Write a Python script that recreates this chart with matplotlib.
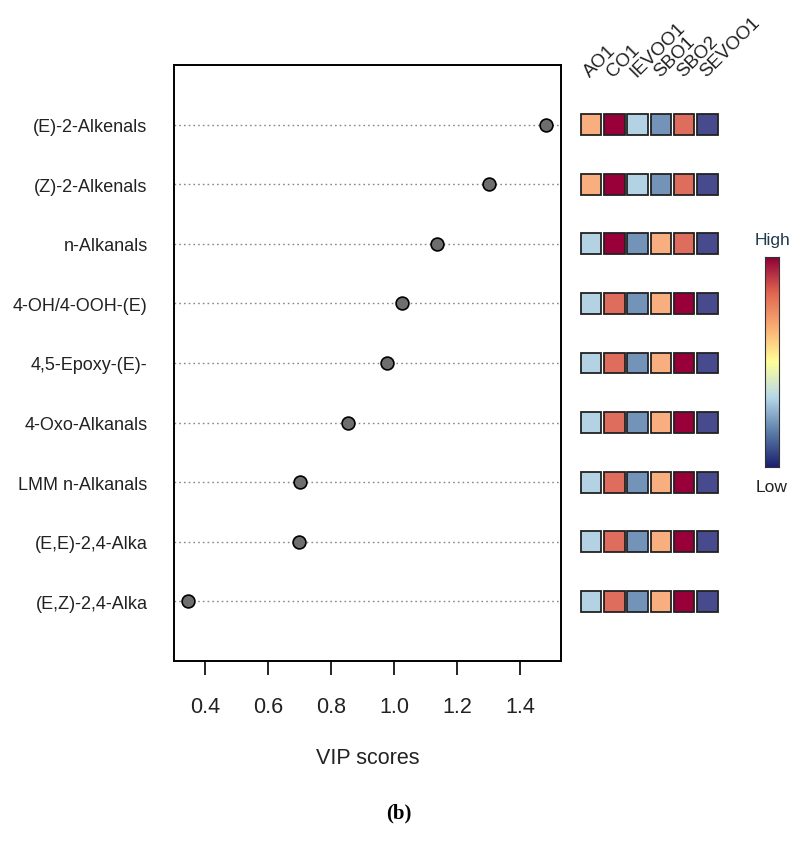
import numpy as np
import matplotlib
matplotlib.use("Agg")
import matplotlib.pyplot as plt
from matplotlib.colors import LinearSegmentedColormap, ListedColormap, BoundaryNorm
from matplotlib.patches import Rectangle

plt.rcParams["font.family"] = ["Liberation Sans", "DejaVu Sans"]

# data
features = ["(E)-2-Alkenals", "(Z)-2-Alkenals", "n-Alkanals", "4-OH/4-OOH-(E)",
            "4,5-Epoxy-(E)-", "4-Oxo-Alkanals", "LMM n-Alkanals",
            "(E,E)-2,4-Alka", "(E,Z)-2,4-Alka"]
vip_scores = [1.483, 1.302, 1.136, 1.025, 0.977, 0.852, 0.700, 0.697, 0.344]
groups = ["AO1", "CO1", "IEVOO1", "SBO1", "SBO2", "SEVOO1"]
# relative level of each group (1 = low, 6 = high)
levels = [
    [4, 6, 3, 2, 5, 1],
    [4, 6, 3, 2, 5, 1],
    [3, 6, 2, 4, 5, 1],
    [3, 5, 2, 4, 6, 1],
    [3, 5, 2, 4, 6, 1],
    [3, 5, 2, 4, 6, 1],
    [3, 5, 2, 4, 6, 1],
    [3, 5, 2, 4, 6, 1],
    [3, 5, 2, 4, 6, 1],
]
x_ticks = [0.4, 0.6, 0.8, 1.0, 1.2, 1.4]

level_colors = ["#474a8c", "#7393b8", "#b3d2e4", "#f8ae7e", "#de6d5d", "#990039"]
bar_colors = ["#1c1f70", "#5d7ea8", "#b8d8ea", "#ffff99", "#f9ad74", "#e0644f", "#8e0038"]

W, H = 798, 845
fig = plt.figure(figsize=(W / 100, H / 100), dpi=100)

def px_rect(x0, y0, x1, y1):
    return [x0 / W, 1 - y1 / H, (x1 - x0) / W, (y1 - y0) / H]

# main dot plot
ax = fig.add_axes(px_rect(174, 66, 561, 662))
ypos = np.arange(1, len(features) + 1)
for y in ypos:
    ax.axhline(y, color="#888888", linestyle=(0, (1.2, 2.2)), linewidth=1.0, zorder=1)
ax.scatter(vip_scores, ypos, s=85, facecolor="#6e6e6e", edgecolor="black",
           linewidth=1.2, zorder=3)
ax.set_xlim(0.30, 1.53)
ax.set_ylim(10, 0)
ax.set_yticks(ypos)
ax.set_yticklabels(features, fontsize=13, color="#222222")
ax.tick_params(axis="y", length=0, pad=19)
ax.set_xticks(x_ticks)
ax.set_xticklabels([f"{v:.1f}" for v in x_ticks], fontsize=15.5, color="#222222")
ax.tick_params(axis="x", length=10, width=1.2, pad=15)
for sp in ax.spines.values():
    sp.set_linewidth(1.4)
ax.set_xlabel("VIP scores", fontsize=15.5, labelpad=22, color="#222222")

# heatmap of group levels
hx = fig.add_axes(px_rect(579.5, 66, 719, 662))
hx.set_xlim(0, len(groups))
hx.set_ylim(10, 0)
hx.axis("off")
cmap_levels = ListedColormap(level_colors)
norm_levels = BoundaryNorm(np.arange(0.5, 7.5, 1), cmap_levels.N)
sq_w, sq_h = 0.88, 0.35
for r, row in enumerate(levels):
    for c, lv in enumerate(row):
        hx.add_patch(Rectangle((c + 0.5 - sq_w / 2, r + 1 - sq_h / 2), sq_w, sq_h,
                               facecolor=cmap_levels(norm_levels(lv)),
                               edgecolor="#222222", linewidth=1.3, clip_on=False))
for c, g in enumerate(groups):
    hx.text(c + 0.45, 0.2, g, rotation=45, rotation_mode="anchor",
            ha="left", va="baseline", fontsize=13.5, color="#222222", clip_on=False)

# colour key
cx = fig.add_axes(px_rect(765, 258, 779, 468))
cmap_bar = LinearSegmentedColormap.from_list("key", bar_colors)
grad = np.linspace(0, 1, 256).reshape(-1, 1)
cx.imshow(grad, cmap=cmap_bar, aspect="auto", origin="lower")
cx.set_xticks([])
cx.set_yticks([])
for sp in cx.spines.values():
    sp.set_linewidth(0.8)
    sp.set_color("#333333")
fig.text(772 / W, 1 - 240 / H, "High", ha="center", va="center", fontsize=12.5, color="#1f3b4d")
fig.text(772 / W, 1 - 488 / H, "Low", ha="center", va="center", fontsize=12.5, color="#222222")

fig.text(399 / W, 1 - 813 / H, "(b)", ha="center", va="center", fontsize=15,
         fontweight="bold", family=["Liberation Serif", "DejaVu Serif"])

fig.savefig("out.png", dpi=100)
